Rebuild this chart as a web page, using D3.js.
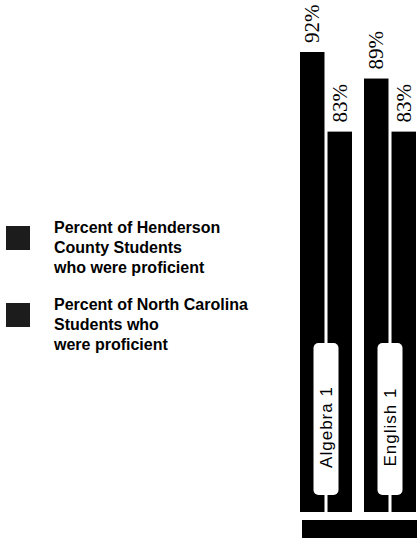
<!DOCTYPE html>
<html>
<head>
<meta charset="utf-8">
<script src="https://cdn.jsdelivr.net/npm/d3@7"></script>
<style>
  html, body { margin: 0; padding: 0; background: #fff; }
  svg { display: block; }
</style>
</head>
<body>
<svg id="chart" width="417" height="538"></svg>
<script>
// Proficiency by subject
const subjects = ["Algebra 1", "English 1"];
const seriesKeys = ["henderson", "nc"];
const hendersonPct = [92, 89];
const ncPct = [83, 83];
const legendHenderson = ["Percent of Henderson", "County Students", "who were proficient"];
const legendNC = ["Percent of North Carolina", "Students who", "were proficient"];

const rows = subjects.map((s, i) => ({
  subject: s,
  values: [
    { key: "henderson", value: hendersonPct[i] },
    { key: "nc", value: ncPct[i] }
  ]
}));

const svg = d3.select("#chart");

const baseY = 512;
const y = d3.scaleLinear().domain([40, 92]).range([baseY, 52]);

const x0 = d3.scaleBand()
  .domain(subjects)
  .range([300, 416])
  .paddingInner(0.1875)
  .paddingOuter(0);

const x1 = d3.scaleBand()
  .domain(seriesKeys)
  .range([0, x0.bandwidth()])
  .paddingInner(0.11)
  .paddingOuter(0);

// floor strip under the bars
svg.append("rect")
  .attr("x", 302).attr("y", 520)
  .attr("width", 417 - 302).attr("height", 18)
  .attr("fill", "#000");

const groups = svg.selectAll("g.subject")
  .data(rows)
  .join("g")
  .attr("class", "subject")
  .attr("transform", d => `translate(${x0(d.subject)},0)`);

groups.selectAll("rect.bar")
  .data(d => d.values)
  .join("rect")
  .attr("class", "bar")
  .attr("x", d => x1(d.key))
  .attr("width", x1.bandwidth())
  .attr("y", d => y(d.value))
  .attr("height", d => baseY - y(d.value))
  .attr("fill", "#000");

// value labels, rotated, above each bar
groups.selectAll("text.val")
  .data(d => d.values)
  .join("text")
  .attr("class", "val")
  .attr("transform", d => `translate(${x1(d.key) + x1.bandwidth() / 2 + 7},${y(d.value) - 9}) rotate(-90)`)
  .attr("text-anchor", "start")
  .attr("font-family", "'Liberation Serif', 'Times New Roman', serif")
  .attr("font-size", 21)
  .attr("fill", "#000")
  .text(d => d.value + "%");

// subject tags across each pair of bars
const tagTop = 343, tagBottom = 495, tagW = 25;
groups.append("rect")
  .attr("x", x0.bandwidth() / 2 - tagW / 2)
  .attr("y", tagTop)
  .attr("width", tagW)
  .attr("height", tagBottom - tagTop)
  .attr("rx", 5).attr("ry", 5)
  .attr("fill", "#fff");

groups.append("text")
  .attr("transform", `translate(${x0.bandwidth() / 2 + 6},427) rotate(-90)`)
  .attr("text-anchor", "middle")
  .attr("font-family", "'Liberation Sans', Arial, sans-serif")
  .attr("font-size", 17)
  .attr("letter-spacing", 1)
  .attr("fill", "#000")
  .text(d => d.subject);

// legend
const legend = [
  { lines: legendHenderson, boxY: 226, textY: 232.5 },
  { lines: legendNC, boxY: 303, textY: 310 }
];

const lg = svg.selectAll("g.legend")
  .data(legend)
  .join("g")
  .attr("class", "legend");

lg.append("rect")
  .attr("x", 6)
  .attr("y", d => d.boxY)
  .attr("width", 24)
  .attr("height", 24)
  .attr("fill", "#1c1c1c");

lg.append("text")
  .attr("font-family", "'Liberation Sans', Arial, sans-serif")
  .attr("font-weight", "bold")
  .attr("font-size", 16)
  .attr("fill", "#000")
  .each(function (d) {
    d3.select(this).selectAll("tspan")
      .data(d.lines)
      .join("tspan")
      .attr("x", 54)
      .attr("y", (t, i) => d.textY + i * 20)
      .text(t => t);
  });
</script>
</body>
</html>
